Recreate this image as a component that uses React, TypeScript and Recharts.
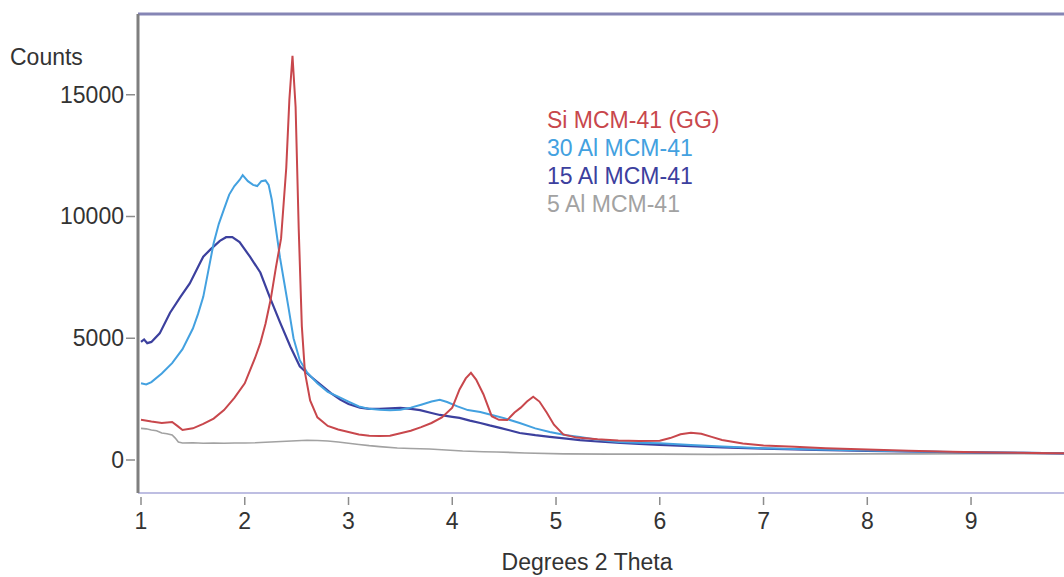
import React from 'react';
import { LineChart, Line, XAxis, YAxis, ReferenceLine } from 'recharts';

// XRD patterns, counts vs degrees 2 theta
const siMcm41 = [
  [1.0, 1650], [1.1, 1580], [1.2, 1520], [1.3, 1560], [1.35, 1400], [1.4, 1230], [1.5, 1300],
  [1.6, 1480], [1.7, 1700], [1.8, 2050], [1.9, 2550], [2.0, 3150], [2.1, 4200], [2.15, 4800],
  [2.2, 5600], [2.25, 6600], [2.3, 7900], [2.35, 9100], [2.4, 12000], [2.43, 14800], [2.46, 16600],
  [2.49, 14500], [2.52, 9500], [2.55, 5500], [2.58, 3600], [2.63, 2450], [2.7, 1750], [2.8, 1400],
  [2.9, 1250], [3.0, 1150], [3.1, 1050], [3.2, 1000], [3.3, 990], [3.4, 1000], [3.5, 1100],
  [3.6, 1200], [3.7, 1350], [3.8, 1520], [3.9, 1750], [4.0, 2150], [4.07, 2900], [4.13, 3350],
  [4.18, 3580], [4.23, 3300], [4.3, 2700], [4.38, 1800], [4.45, 1650], [4.53, 1640], [4.6, 1950],
  [4.66, 2150], [4.72, 2400], [4.78, 2600], [4.84, 2400], [4.91, 1950], [4.98, 1450], [5.07, 1050],
  [5.2, 920], [5.4, 850], [5.6, 800], [5.8, 780], [6.0, 790], [6.1, 900], [6.2, 1060], [6.3, 1120],
  [6.4, 1080], [6.5, 950], [6.6, 820], [6.8, 680], [7.0, 600], [7.3, 540], [7.6, 480], [8.0, 430],
  [8.4, 380], [8.8, 340], [9.2, 310], [9.6, 290], [9.9, 280],
];

const al30 = [
  [1.0, 3150], [1.05, 3100], [1.1, 3200], [1.2, 3550], [1.3, 3980], [1.4, 4550], [1.5, 5400],
  [1.55, 6000], [1.6, 6700], [1.65, 7800], [1.7, 8900], [1.75, 9700], [1.8, 10300], [1.85, 10900],
  [1.9, 11250], [1.95, 11500], [1.98, 11700], [2.03, 11450], [2.08, 11300], [2.12, 11250],
  [2.16, 11450], [2.2, 11480], [2.23, 11300], [2.26, 10700], [2.3, 9500], [2.34, 8300], [2.38, 7300],
  [2.42, 6300], [2.47, 5000], [2.53, 4100], [2.6, 3600], [2.7, 3150], [2.8, 2800], [2.9, 2600],
  [3.0, 2400], [3.1, 2200], [3.2, 2100], [3.3, 2060], [3.4, 2040], [3.5, 2060], [3.6, 2150],
  [3.7, 2270], [3.8, 2400], [3.88, 2470], [3.95, 2380], [4.05, 2200], [4.15, 2050], [4.27, 1970],
  [4.4, 1830], [4.5, 1720], [4.65, 1520], [4.8, 1300], [4.94, 1150], [5.1, 1020], [5.23, 950],
  [5.4, 830], [5.6, 740], [5.8, 710], [6.0, 690], [6.3, 620], [6.6, 550], [7.0, 480], [7.5, 430],
  [8.0, 390], [8.5, 350], [9.0, 320], [9.5, 300], [9.9, 280],
];

const al15 = [
  [1.0, 4850], [1.03, 4950], [1.06, 4800], [1.1, 4850], [1.18, 5200], [1.28, 6050], [1.38, 6700],
  [1.47, 7250], [1.57, 8100], [1.6, 8350], [1.67, 8650], [1.76, 9000], [1.82, 9150], [1.88, 9150],
  [1.95, 8950], [2.05, 8350], [2.15, 7700], [2.24, 6700], [2.34, 5650], [2.44, 4650], [2.53, 3850],
  [2.63, 3450], [2.73, 3100], [2.83, 2750], [2.92, 2480], [3.0, 2300], [3.11, 2150], [3.2, 2100],
  [3.3, 2100], [3.4, 2120], [3.5, 2140], [3.6, 2100], [3.69, 2050], [3.8, 1930], [3.88, 1850],
  [4.0, 1770], [4.07, 1730], [4.17, 1620], [4.27, 1520], [4.36, 1420], [4.46, 1320], [4.55, 1220],
  [4.65, 1110], [4.8, 1020], [4.94, 950], [5.1, 880], [5.23, 820], [5.4, 760], [5.62, 700],
  [5.8, 660], [6.0, 620], [6.3, 570], [6.6, 520], [7.0, 470], [7.5, 420], [8.0, 370], [8.5, 340],
  [9.0, 310], [9.5, 290], [9.9, 270],
];

const al5 = [
  [1.0, 1300], [1.05, 1280], [1.1, 1230], [1.15, 1200], [1.2, 1110], [1.25, 1080], [1.3, 1030],
  [1.33, 900], [1.36, 740], [1.4, 700], [1.5, 710], [1.6, 690], [1.7, 700], [1.8, 690], [1.9, 700],
  [2.0, 700], [2.1, 710], [2.2, 730], [2.3, 750], [2.4, 770], [2.5, 790], [2.6, 810], [2.7, 800],
  [2.8, 780], [2.9, 740], [3.0, 690], [3.1, 640], [3.2, 590], [3.3, 550], [3.47, 490], [3.6, 470],
  [3.78, 450], [3.9, 420], [4.1, 370], [4.3, 340], [4.43, 330], [4.7, 290], [5.07, 250], [5.5, 240],
  [6.0, 240], [6.5, 230], [7.0, 240], [7.5, 240], [8.0, 250], [8.5, 250], [9.0, 260], [9.5, 260],
  [9.9, 260],
];

const xTicks = [1, 2, 3, 4, 5, 6, 7, 8, 9];
const yTicks = [0, 5000, 10000, 15000];

const seriesNames = ['Si MCM-41 (GG)', '30 Al MCM-41', '15 Al MCM-41', '5 Al MCM-41'];
const seriesColors = ['#c8474c', '#43a1e0', '#3c409e', '#a2a2a2'];

const toPoints = (arr: number[][]) => arr.map(([x, y]) => ({ x, y }));

const FONT = '"Liberation Sans", Arial, sans-serif';

const XTick = ({ x, y, payload }: any) => (
  <g>
    <line x1={x} x2={x} y1={y + 4} y2={y + 12} stroke="#8c8c8c" strokeWidth={1.5} />
    <text x={x} y={y + 36} textAnchor="middle" fontSize={23} fill="#333" fontFamily={FONT}>
      {payload.value}
    </text>
  </g>
);

const YTick = ({ x, y, payload }: any) => (
  <g>
    <line x1={x - 12} x2={x - 3} y1={y} y2={y} stroke="#8c8c8c" strokeWidth={1.5} />
    <text x={x - 14} y={y + 8} textAnchor="end" fontSize={23} fill="#333" fontFamily={FONT}>
      {payload.value}
    </text>
  </g>
);

export default function App() {
  return (
    <div style={{ position: 'absolute', left: 0, top: 0, width: 1064, height: 577, background: '#fff' }}>
      <LineChart width={1064} height={577} margin={{ top: 14, right: 0, bottom: 0, left: 0 }}>
        <XAxis
          type="number"
          dataKey="x"
          domain={[0.971, 9.896]}
          ticks={xTicks}
          allowDataOverflow
          axisLine={{ stroke: '#a8a8d8', strokeWidth: 1.5 }}
          tickLine={false}
          tickSize={0}
          tickMargin={0}
          tick={<XTick />}
          height={84}
        />
        <YAxis
          type="number"
          dataKey="y"
          domain={[-1355, 18316]}
          ticks={yTicks}
          allowDataOverflow
          width={138}
          axisLine={{ stroke: '#7f7f7f', strokeWidth: 3 }}
          tickLine={false}
          tickSize={0}
          tickMargin={0}
          tick={<YTick />}
        />
        <ReferenceLine y={18316} stroke="#8585b5" strokeWidth={3} />
        <Line data={toPoints(al5)} dataKey="y" type="linear" stroke={seriesColors[3]} strokeWidth={1.6} dot={false} isAnimationActive={false} />
        <Line data={toPoints(al15)} dataKey="y" type="linear" stroke={seriesColors[2]} strokeWidth={2.2} dot={false} isAnimationActive={false} />
        <Line data={toPoints(al30)} dataKey="y" type="linear" stroke={seriesColors[1]} strokeWidth={2} dot={false} isAnimationActive={false} />
        <Line data={toPoints(siMcm41)} dataKey="y" type="linear" stroke={seriesColors[0]} strokeWidth={2} dot={false} isAnimationActive={false} />
      </LineChart>
      <svg
        width={1064}
        height={577}
        style={{ position: 'absolute', left: 0, top: 0, pointerEvents: 'none' }}
      >
        <text x={10} y={65} fontSize={23} fill="#333" fontFamily={FONT}>Counts</text>
        <text x={587} y={570} fontSize={23} fill="#333" fontFamily={FONT} textAnchor="middle">
          Degrees 2 Theta
        </text>
        {seriesNames.map((name, i) => (
          <text key={name} x={547} y={128 + i * 28} fontSize={23} fill={seriesColors[i]} fontFamily={FONT}>
            {name}
          </text>
        ))}
      </svg>
    </div>
  );
}
